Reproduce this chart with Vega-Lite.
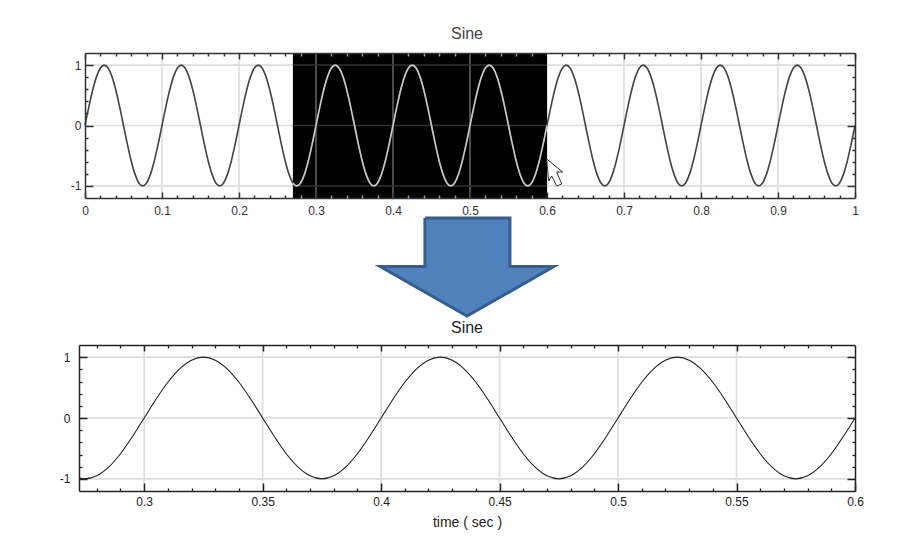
{"$schema":"https://vega.github.io/schema/vega-lite/v6.json","background":"white","padding":{"left":59,"top":26,"right":36,"bottom":19},"bounds":"flush","spacing":20,"config":{"view":{"stroke":null},"font":"Liberation Sans","axis":{"labelFont":"Liberation Sans","titleFont":"Liberation Sans"},"title":{"font":"Liberation Sans"}},
"datasets":{"anchor":[{"t":0.5,"v":0}],"selection":[{"a":0.27,"b":0.6,"lo":-1.2,"hi":1.2}],"cursor":[{"t":0.61,"v":-0.77}],
"arrow":[{"i":0,"ax":-0.47,"ay":1},{"i":1,"ax":0.48,"ay":1},{"i":2,"ax":0.48,"ay":0.51},{"i":3,"ax":0.97,"ay":0.51},{"i":4,"ax":0,"ay":0.01},{"i":5,"ax":-0.97,"ay":0.51},{"i":6,"ax":-0.47,"ay":0.51},{"i":7,"ax":-0.47,"ay":1}],
"sine":[{"t":0,"v":0},{"t":0.005,"v":0.309},{"t":0.01,"v":0.588},{"t":0.015,"v":0.809},{"t":0.02,"v":0.951},{"t":0.025,"v":1},{"t":0.03,"v":0.951},{"t":0.035,"v":0.809},{"t":0.04,"v":0.588},{"t":0.045,"v":0.309},{"t":0.05,"v":0},{"t":0.055,"v":-0.309},{"t":0.06,"v":-0.588},{"t":0.065,"v":-0.809},{"t":0.07,"v":-0.951},{"t":0.075,"v":-1},{"t":0.08,"v":-0.951},{"t":0.085,"v":-0.809},{"t":0.09,"v":-0.588},{"t":0.095,"v":-0.309},
{"t":0.1,"v":0},{"t":0.105,"v":0.309},{"t":0.11,"v":0.588},{"t":0.115,"v":0.809},{"t":0.12,"v":0.951},{"t":0.125,"v":1},{"t":0.13,"v":0.951},{"t":0.135,"v":0.809},{"t":0.14,"v":0.588},{"t":0.145,"v":0.309},{"t":0.15,"v":0},{"t":0.155,"v":-0.309},{"t":0.16,"v":-0.588},{"t":0.165,"v":-0.809},{"t":0.17,"v":-0.951},{"t":0.175,"v":-1},{"t":0.18,"v":-0.951},{"t":0.185,"v":-0.809},{"t":0.19,"v":-0.588},{"t":0.195,"v":-0.309},
{"t":0.2,"v":0},{"t":0.205,"v":0.309},{"t":0.21,"v":0.588},{"t":0.215,"v":0.809},{"t":0.22,"v":0.951},{"t":0.225,"v":1},{"t":0.23,"v":0.951},{"t":0.235,"v":0.809},{"t":0.24,"v":0.588},{"t":0.245,"v":0.309},{"t":0.25,"v":0},{"t":0.255,"v":-0.309},{"t":0.26,"v":-0.588},{"t":0.265,"v":-0.809},{"t":0.27,"v":-0.951},{"t":0.275,"v":-1},{"t":0.28,"v":-0.951},{"t":0.285,"v":-0.809},{"t":0.29,"v":-0.588},{"t":0.295,"v":-0.309},
{"t":0.3,"v":0},{"t":0.305,"v":0.309},{"t":0.31,"v":0.588},{"t":0.315,"v":0.809},{"t":0.32,"v":0.951},{"t":0.325,"v":1},{"t":0.33,"v":0.951},{"t":0.335,"v":0.809},{"t":0.34,"v":0.588},{"t":0.345,"v":0.309},{"t":0.35,"v":0},{"t":0.355,"v":-0.309},{"t":0.36,"v":-0.588},{"t":0.365,"v":-0.809},{"t":0.37,"v":-0.951},{"t":0.375,"v":-1},{"t":0.38,"v":-0.951},{"t":0.385,"v":-0.809},{"t":0.39,"v":-0.588},{"t":0.395,"v":-0.309},
{"t":0.4,"v":0},{"t":0.405,"v":0.309},{"t":0.41,"v":0.588},{"t":0.415,"v":0.809},{"t":0.42,"v":0.951},{"t":0.425,"v":1},{"t":0.43,"v":0.951},{"t":0.435,"v":0.809},{"t":0.44,"v":0.588},{"t":0.445,"v":0.309},{"t":0.45,"v":0},{"t":0.455,"v":-0.309},{"t":0.46,"v":-0.588},{"t":0.465,"v":-0.809},{"t":0.47,"v":-0.951},{"t":0.475,"v":-1},{"t":0.48,"v":-0.951},{"t":0.485,"v":-0.809},{"t":0.49,"v":-0.588},{"t":0.495,"v":-0.309},
{"t":0.5,"v":0},{"t":0.505,"v":0.309},{"t":0.51,"v":0.588},{"t":0.515,"v":0.809},{"t":0.52,"v":0.951},{"t":0.525,"v":1},{"t":0.53,"v":0.951},{"t":0.535,"v":0.809},{"t":0.54,"v":0.588},{"t":0.545,"v":0.309},{"t":0.55,"v":0},{"t":0.555,"v":-0.309},{"t":0.56,"v":-0.588},{"t":0.565,"v":-0.809},{"t":0.57,"v":-0.951},{"t":0.575,"v":-1},{"t":0.58,"v":-0.951},{"t":0.585,"v":-0.809},{"t":0.59,"v":-0.588},{"t":0.595,"v":-0.309},
{"t":0.6,"v":0},{"t":0.605,"v":0.309},{"t":0.61,"v":0.588},{"t":0.615,"v":0.809},{"t":0.62,"v":0.951},{"t":0.625,"v":1},{"t":0.63,"v":0.951},{"t":0.635,"v":0.809},{"t":0.64,"v":0.588},{"t":0.645,"v":0.309},{"t":0.65,"v":0},{"t":0.655,"v":-0.309},{"t":0.66,"v":-0.588},{"t":0.665,"v":-0.809},{"t":0.67,"v":-0.951},{"t":0.675,"v":-1},{"t":0.68,"v":-0.951},{"t":0.685,"v":-0.809},{"t":0.69,"v":-0.588},{"t":0.695,"v":-0.309},
{"t":0.7,"v":0},{"t":0.705,"v":0.309},{"t":0.71,"v":0.588},{"t":0.715,"v":0.809},{"t":0.72,"v":0.951},{"t":0.725,"v":1},{"t":0.73,"v":0.951},{"t":0.735,"v":0.809},{"t":0.74,"v":0.588},{"t":0.745,"v":0.309},{"t":0.75,"v":0},{"t":0.755,"v":-0.309},{"t":0.76,"v":-0.588},{"t":0.765,"v":-0.809},{"t":0.77,"v":-0.951},{"t":0.775,"v":-1},{"t":0.78,"v":-0.951},{"t":0.785,"v":-0.809},{"t":0.79,"v":-0.588},{"t":0.795,"v":-0.309},
{"t":0.8,"v":0},{"t":0.805,"v":0.309},{"t":0.81,"v":0.588},{"t":0.815,"v":0.809},{"t":0.82,"v":0.951},{"t":0.825,"v":1},{"t":0.83,"v":0.951},{"t":0.835,"v":0.809},{"t":0.84,"v":0.588},{"t":0.845,"v":0.309},{"t":0.85,"v":0},{"t":0.855,"v":-0.309},{"t":0.86,"v":-0.588},{"t":0.865,"v":-0.809},{"t":0.87,"v":-0.951},{"t":0.875,"v":-1},{"t":0.88,"v":-0.951},{"t":0.885,"v":-0.809},{"t":0.89,"v":-0.588},{"t":0.895,"v":-0.309},
{"t":0.9,"v":0},{"t":0.905,"v":0.309},{"t":0.91,"v":0.588},{"t":0.915,"v":0.809},{"t":0.92,"v":0.951},{"t":0.925,"v":1},{"t":0.93,"v":0.951},{"t":0.935,"v":0.809},{"t":0.94,"v":0.588},{"t":0.945,"v":0.309},{"t":0.95,"v":0},{"t":0.955,"v":-0.309},{"t":0.96,"v":-0.588},{"t":0.965,"v":-0.809},{"t":0.97,"v":-0.951},{"t":0.975,"v":-1},{"t":0.98,"v":-0.951},{"t":0.985,"v":-0.809},{"t":0.99,"v":-0.588},{"t":0.995,"v":-0.309},{"t":1,"v":0}],
"gridT":[{"g":0.1},{"g":0.2},{"g":0.3},{"g":0.4},{"g":0.5},{"g":0.6},{"g":0.7},{"g":0.8},{"g":0.9}],
"gridB":[{"g":0.3},{"g":0.35},{"g":0.4},{"g":0.45},{"g":0.5},{"g":0.55}],
"gridY":[{"h":-1},{"h":0},{"h":1}]},
"vconcat":[
{"width":776,"height":145,"title":{"text":"Sine","fontSize":16,"fontWeight":"normal","color":"#444444","offset":10,"anchor":"middle"},"resolve":{"axis":{"x":"independent","y":"independent"}},
"layer":[
{"data":{"name":"gridT"},"mark":{"type":"rule","color":"#dddddd","strokeWidth":1.6},"encoding":{"x":{"field":"g","type":"quantitative","scale":{"domain":[0,1],"range":[6,776],"nice":false},"axis":null}}},
{"data":{"name":"gridY"},"mark":{"type":"rule","color":"#dddddd","strokeWidth":1.6},"encoding":{"y":{"field":"h","type":"quantitative","scale":{"domain":[-1.2,1.2],"nice":false},"axis":null},"x":{"datum":0,"axis":null},"x2":{"datum":1}}},
{"data":{"name":"selection"},"mark":{"type":"rect","color":"#000000"},"encoding":{"x":{"field":"a","type":"quantitative","axis":null},"x2":{"field":"b"},"y":{"field":"lo","type":"quantitative","axis":null},"y2":{"field":"hi"}}},
{"data":{"name":"gridT"},"transform":[{"filter":"datum.g>0.27 && datum.g<0.6"}],"mark":{"type":"rule","color":"#666666","strokeWidth":1.5},"encoding":{"x":{"field":"g","type":"quantitative","axis":null}}},
{"data":{"name":"gridY"},"mark":{"type":"rule","color":"#303030","strokeWidth":1.5},"encoding":{"y":{"field":"h","type":"quantitative","axis":null},"x":{"datum":0.27,"axis":null},"x2":{"datum":0.6}}},
{"data":{"name":"sine"},"mark":{"type":"line","color":"#444444","strokeWidth":1.6,"interpolate":"monotone"},"encoding":{"x":{"field":"t","type":"quantitative","axis":null},"y":{"field":"v","type":"quantitative","axis":null}}},
{"data":{"name":"sine"},"transform":[{"filter":"datum.t>=0.27 && datum.t<=0.6"}],"mark":{"type":"line","color":"#c8c8c8","strokeWidth":1.6,"interpolate":"monotone"},"encoding":{"x":{"field":"t","type":"quantitative","axis":null},"y":{"field":"v","type":"quantitative","axis":null}}},
{"data":{"name":"cursor"},"mark":{"type":"point","shape":"M-8 -13L8 0L2 0L7 12L2 14L-3 4L-6 9Z","size":4,"filled":true,"fill":"#ffffff","stroke":"#333333","strokeWidth":1,"opacity":1},"encoding":{"x":{"field":"t","type":"quantitative","axis":null},"y":{"field":"v","type":"quantitative","axis":null}}},
{"data":{"name":"anchor"},"mark":{"type":"point","opacity":0},"encoding":{"x":{"field":"t","type":"quantitative","axis":{"orient":"bottom","title":null,"grid":false,"zindex":1,"values":[0,0.1,0.2,0.3,0.4,0.5,0.6,0.7,0.8,0.9,1],"format":"~g","labelFontSize":12,"labelColor":"#333333","labelPadding":13,"labelFlush":false,"labelOverlap":false,"tickSize":-6,"tickColor":"#333333","tickWidth":1.5,"domainColor":"#333333","domainWidth":1.5}},"y":{"field":"v","type":"quantitative","axis":{"orient":"left","title":null,"grid":false,"zindex":1,"offset":-6,"values":[-1,0,1],"format":"~g","labelExpr":"replace(datum.label,'\u2212','-')","labelFontSize":12,"labelColor":"#333333","labelPadding":12,"labelOverlap":false,"labelFlush":false,"tickSize":-8,"tickColor":"#333333","tickWidth":1.5,"domainColor":"#333333","domainWidth":1.5}}}},
{"data":{"name":"anchor"},"mark":{"type":"point","opacity":0},"encoding":{"x":{"field":"t","type":"quantitative","axis":{"orient":"bottom","title":null,"grid":false,"zindex":1,"labels":false,"domain":false,"values":[0.02,0.04,0.06,0.08,0.12,0.14,0.16,0.18,0.22,0.24,0.26,0.62,0.64,0.66,0.68,0.72,0.74,0.76,0.78,0.82,0.84,0.86,0.88,0.92,0.94,0.96,0.98],"tickSize":-3,"tickColor":"#333333","tickWidth":1.5}},"y":{"field":"v","type":"quantitative","axis":{"orient":"left","title":null,"grid":false,"zindex":1,"offset":-6,"labels":false,"domain":false,"values":[-0.8,-0.6,-0.4,-0.2,0.2,0.4,0.6,0.8],"tickSize":-3,"tickColor":"#333333","tickWidth":1.5}}}},
{"data":{"name":"anchor"},"mark":{"type":"point","opacity":0},"encoding":{"x":{"field":"t","type":"quantitative","axis":{"orient":"top","title":null,"grid":false,"zindex":1,"labels":false,"values":[0,0.1,0.2,0.7,0.8,0.9,1],"tickSize":-6,"tickColor":"#333333","tickWidth":1.5,"domainColor":"#333333","domainWidth":1.5}},"y":{"field":"v","type":"quantitative","axis":{"orient":"right","title":null,"grid":false,"zindex":1,"labels":false,"values":[-1,0,1],"tickSize":-8,"tickColor":"#333333","tickWidth":1.5,"domainColor":"#333333","domainWidth":1.5}}}},
{"data":{"name":"anchor"},"mark":{"type":"point","opacity":0},"encoding":{"x":{"field":"t","type":"quantitative","axis":{"orient":"top","title":null,"grid":false,"zindex":1,"labels":false,"domain":false,"values":[0.02,0.04,0.06,0.08,0.12,0.14,0.16,0.18,0.22,0.24,0.26,0.62,0.64,0.66,0.68,0.72,0.74,0.76,0.78,0.82,0.84,0.86,0.88,0.92,0.94,0.96,0.98],"tickSize":-3,"tickColor":"#333333","tickWidth":1.5}},"y":{"field":"v","type":"quantitative","axis":{"orient":"right","title":null,"grid":false,"zindex":1,"labels":false,"domain":false,"values":[-0.8,-0.6,-0.4,-0.2,0.2,0.4,0.6,0.8],"tickSize":-3,"tickColor":"#333333","tickWidth":1.5}}}},
{"data":{"name":"anchor"},"mark":{"type":"point","opacity":0},"encoding":{"y":{"field":"v","type":"quantitative","axis":null},"x":{"field":"t","type":"quantitative","axis":{"orient":"top","title":null,"grid":false,"zindex":1,"labels":false,"domain":false,"values":[0.28,0.32,0.34,0.36,0.38,0.42,0.44,0.46,0.48,0.52,0.54,0.56,0.58],"tickSize":-3,"tickColor":"#999999","tickWidth":1.5}}}},
{"data":{"name":"anchor"},"mark":{"type":"point","opacity":0},"encoding":{"y":{"field":"v","type":"quantitative","axis":null},"x":{"field":"t","type":"quantitative","axis":{"orient":"bottom","title":null,"grid":false,"zindex":1,"labels":false,"domain":false,"values":[0.28,0.32,0.34,0.36,0.38,0.42,0.44,0.46,0.48,0.52,0.54,0.56,0.58],"tickSize":-3,"tickColor":"#999999","tickWidth":1.5}}}}
]},
{"width":776,"height":107,"layer":[
{"data":{"name":"arrow"},"mark":{"type":"line","fill":"#4f81bd","stroke":"#385d8a","strokeWidth":3,"strokeJoin":"miter"},"encoding":{"x":{"field":"ax","type":"quantitative","scale":{"domain":[-4.335,4.335]},"axis":null},"y":{"field":"ay","type":"quantitative","scale":{"domain":[-0.08,1]},"axis":null},"order":{"field":"i","type":"quantitative"}}}
]},
{"width":776,"height":146,"title":{"text":"Sine","fontSize":16,"fontWeight":"normal","color":"#222222","offset":8,"anchor":"middle"},"resolve":{"axis":{"x":"independent","y":"independent"}},
"layer":[
{"data":{"name":"gridB"},"mark":{"type":"rule","color":"#dddddd","strokeWidth":1.6},"encoding":{"x":{"field":"g","type":"quantitative","scale":{"domain":[0.2725,0.6],"nice":false},"axis":null}}},
{"data":{"name":"gridY"},"mark":{"type":"rule","color":"#dddddd","strokeWidth":1.6},"encoding":{"y":{"field":"h","type":"quantitative","scale":{"domain":[-1.2,1.2],"nice":false},"axis":null}}},
{"data":{"name":"sine"},"transform":[{"filter":"datum.t>=0.27 && datum.t<=0.6"}],"mark":{"type":"line","color":"#222222","strokeWidth":1.1,"interpolate":"monotone","clip":true},"encoding":{"x":{"field":"t","type":"quantitative","axis":null},"y":{"field":"v","type":"quantitative","axis":null}}},
{"data":{"name":"anchor"},"mark":{"type":"point","opacity":0},"encoding":{"x":{"field":"t","type":"quantitative","axis":{"orient":"bottom","title":"time ( sec )","titleFontSize":14,"titleFontWeight":"normal","titleColor":"#222222","titlePadding":8,"grid":false,"zindex":1,"values":[0.3,0.35,0.4,0.45,0.5,0.55,0.6],"format":"~g","labelFontSize":12,"labelColor":"#222222","labelPadding":13,"labelFlush":false,"labelOverlap":false,"tickSize":-8,"tickColor":"#222222","tickWidth":1.5,"domainColor":"#222222","domainWidth":1.5}},"y":{"field":"v","type":"quantitative","axis":{"orient":"left","title":null,"grid":false,"zindex":1,"values":[-1,0,1],"format":"~g","labelExpr":"replace(datum.label,'\u2212','-')","labelFontSize":12,"labelColor":"#222222","labelPadding":17,"labelOverlap":false,"labelFlush":false,"tickSize":-8,"tickColor":"#222222","tickWidth":1.5,"domainColor":"#222222","domainWidth":1.5}}}},
{"data":{"name":"anchor"},"mark":{"type":"point","opacity":0},"encoding":{"x":{"field":"t","type":"quantitative","axis":{"orient":"bottom","title":null,"grid":false,"zindex":1,"labels":false,"domain":false,"values":[0.28,0.29,0.31,0.32,0.33,0.34,0.36,0.37,0.38,0.39,0.41,0.42,0.43,0.44,0.46,0.47,0.48,0.49,0.51,0.52,0.53,0.54,0.56,0.57,0.58,0.59],"tickSize":-3,"tickColor":"#222222","tickWidth":1.3}},"y":{"field":"v","type":"quantitative","axis":{"orient":"left","title":null,"grid":false,"zindex":1,"labels":false,"domain":false,"values":[-0.8,-0.6,-0.4,-0.2,0.2,0.4,0.6,0.8],"tickSize":-3,"tickColor":"#222222","tickWidth":1.3}}}},
{"data":{"name":"anchor"},"mark":{"type":"point","opacity":0},"encoding":{"x":{"field":"t","type":"quantitative","axis":{"orient":"top","title":null,"grid":false,"zindex":1,"labels":false,"values":[0.3,0.35,0.4,0.45,0.5,0.55],"tickSize":-6,"tickColor":"#222222","tickWidth":1.5,"domainColor":"#222222","domainWidth":1.5}},"y":{"field":"v","type":"quantitative","axis":{"orient":"right","title":null,"grid":false,"zindex":1,"labels":false,"values":[-1,0,1],"tickSize":-8,"tickColor":"#222222","tickWidth":1.5,"domainColor":"#222222","domainWidth":1.5}}}},
{"data":{"name":"anchor"},"mark":{"type":"point","opacity":0},"encoding":{"x":{"field":"t","type":"quantitative","axis":{"orient":"top","title":null,"grid":false,"zindex":1,"labels":false,"domain":false,"values":[0.28,0.29,0.31,0.32,0.33,0.34,0.36,0.37,0.38,0.39,0.41,0.42,0.43,0.44,0.46,0.47,0.48,0.49,0.51,0.52,0.53,0.54,0.56,0.57,0.58,0.59],"tickSize":-3,"tickColor":"#222222","tickWidth":1.3}},"y":{"field":"v","type":"quantitative","axis":{"orient":"right","title":null,"grid":false,"zindex":1,"labels":false,"domain":false,"values":[-0.8,-0.6,-0.4,-0.2,0.2,0.4,0.6,0.8],"tickSize":-3,"tickColor":"#222222","tickWidth":1.3}}}}
]}
]}
